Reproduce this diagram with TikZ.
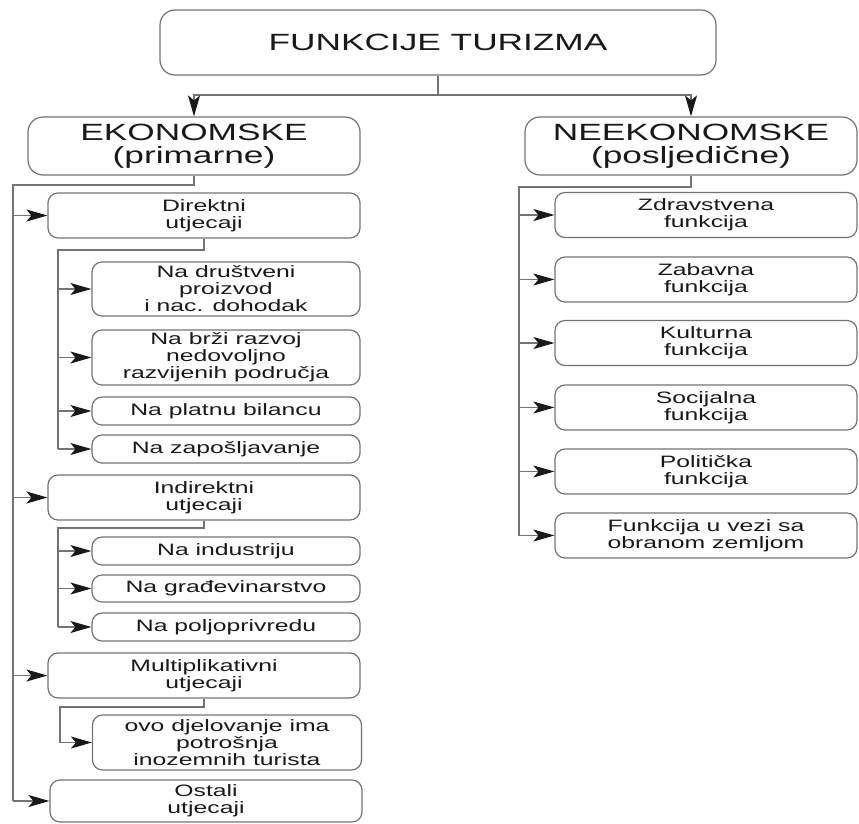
\documentclass[tikz,border=0pt]{standalone}
\usepackage{fontspec}
\setmainfont[FakeStretch=1.5]{Liberation Sans}
\usetikzlibrary{arrows.meta}

\begin{document}
\begin{tikzpicture}[x=1pt,y=-1pt,
  line/.style={draw=black!55,line width=1.2pt},
  arr/.style={line,-{Stealth[length=21pt,width=12pt,inset=5pt,color=black!90]}},
  box/.style={line,rounded corners=10pt,align=center,text=black!90,inner sep=0pt,
    font=\fontsize{16.5}{17}\selectfont},
  bigbox/.style={box,rounded corners=15pt,font=\fontsize{23.5}{23}\selectfont}]
\useasboundingbox (0,0) rectangle (859,823);
% main boxes
\node[bigbox,minimum width=556,minimum height=65] (top) at (438,42.5) {FUNKCIJE TURIZMA};
\node[bigbox,minimum width=332,minimum height=58] (eko) at (194,146) {EKONOMSKE\\(primarne)};
\node[bigbox,minimum width=332,minimum height=58] (neeko) at (691,146) {NEEKONOMSKE\\(posljedične)};
% ekonomske
\node[box,minimum width=312,minimum height=45] (dir) at (204,215.5) {Direktni\\utjecaji};
\node[box,minimum width=268,minimum height=54] (drus) at (226,289) {Na društveni\\proizvod\\i nac. dohodak};
\node[box,minimum width=268,minimum height=55] (brzi) at (226,357.5) {Na brži razvoj\\nedovoljno\\razvijenih područja};
\node[box,minimum width=268,minimum height=28] (plat) at (226,411) {Na platnu bilancu};
\node[box,minimum width=268,minimum height=28] (zap) at (226,449) {Na zapošljavanje};
\node[box,minimum width=312,minimum height=45] (ind) at (204,497.5) {Indirektni\\utjecaji};
\node[box,minimum width=268,minimum height=28] (indus) at (226,551) {Na industriju};
\node[box,minimum width=268,minimum height=27] (grad) at (226,588.5) {Na građevinarstvo};
\node[box,minimum width=268,minimum height=28] (polj) at (226,627) {Na poljoprivredu};
\node[box,minimum width=312,minimum height=45] (mult) at (204,675.5) {Multiplikativni\\utjecaji};
\node[box,minimum width=269,minimum height=55] (ovo) at (227,742.5) {ovo djelovanje ima\\potrošnja\\inozemnih turista};
\node[box,minimum width=312,minimum height=42] (ost) at (206,801) {Ostali\\utjecaji};
% neekonomske
\node[box,minimum width=302,minimum height=45] (zdr) at (706,215) {Zdravstvena\\funkcija};
\node[box,minimum width=302,minimum height=45] (zab) at (706,279.5) {Zabavna\\funkcija};
\node[box,minimum width=302,minimum height=45] (kul) at (706,343) {Kulturna\\funkcija};
\node[box,minimum width=302,minimum height=45] (soc) at (706,407.5) {Socijalna\\funkcija};
\node[box,minimum width=302,minimum height=45] (pol) at (706,471.5) {Politička\\funkcija};
\node[box,minimum width=302,minimum height=45] (obr) at (706,535.5) {Funkcija u vezi sa\\obranom zemljom};
% connectors
\coordinate (topJ) at (438,95);
\draw[line] (top.south) -- (topJ);
\draw[arr] (topJ) -| (eko.north);
\draw[arr] (topJ) -| (neeko.north);
\coordinate (ekoL) at (13,185);
\draw[line] (eko.south) |- (ekoL) -- (ekoL |- ost.west);
\foreach \n in {dir,ind,mult,ost}
  \draw[arr] (ekoL |- \n.west) -- (\n.west);
\coordinate (dirL) at (58,250);
\draw[line] (dir.south) |- (dirL) -- (dirL |- zap.west);
\foreach \n in {drus,brzi,plat,zap}
  \draw[arr] (dirL |- \n.west) -- (\n.west);
\coordinate (indL) at (58,528);
\draw[line] (ind.south) |- (indL) -- (indL |- polj.west);
\foreach \n in {indus,grad,polj}
  \draw[arr] (indL |- \n.west) -- (\n.west);
\coordinate (multL) at (60,707);
\draw[line] (mult.south) |- (multL) -- (multL |- ovo.west);
\draw[arr] (multL |- ovo.west) -- (ovo.west);
\coordinate (neekoL) at (519,187);
\draw[line] (neeko.south) |- (neekoL) -- (neekoL |- obr.west);
\foreach \n in {zdr,zab,kul,soc,pol,obr}
  \draw[arr] (neekoL |- \n.west) -- (\n.west);
\end{tikzpicture}
\end{document}
